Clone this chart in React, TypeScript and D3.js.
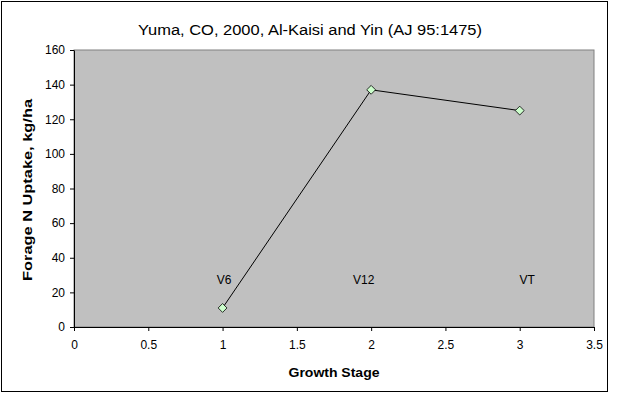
import * as d3 from 'd3';
import * as React from 'react';

const { useRef, useEffect } = React;

const width = 619;
const height = 397;
const margin = { top: 50, right: 25, bottom: 70, left: 74 };

const title = 'Yuma, CO, 2000, Al-Kaisi and Yin (AJ 95:1475)';
const stages = [1, 2, 3];
const uptake = [11, 137, 125];
const stageLabels = ['V6', 'V12', 'VT'];
const labelX = [1.01, 1.95, 3.05];
const labelY = [27, 27, 27];
const xTicks = [0, 0.5, 1, 1.5, 2, 2.5, 3, 3.5];
const yTicks = [0, 20, 40, 60, 80, 100, 120, 140, 160];

const font = '"Liberation Sans", Arial, sans-serif';

export default () => {
  const rootRef = useRef<SVGSVGElement>(null);

  useEffect(() => {
    const svgEl = rootRef.current;
    if (!svgEl) return;
    const svg = d3.select(svgEl);
    svg.selectAll('*').remove();

    const x = d3
      .scaleLinear()
      .domain([0, 3.5])
      .range([margin.left, width - margin.right]);
    const y = d3
      .scaleLinear()
      .domain([0, 160])
      .range([height - margin.bottom, margin.top]);

    // outer chart frame
    svg
      .append('rect')
      .attr('x', 1.5)
      .attr('y', 1.5)
      .attr('width', 606)
      .attr('height', 390)
      .attr('fill', '#fff')
      .attr('stroke', '#000')
      .attr('stroke-width', 1);

    // plot area
    svg
      .append('rect')
      .attr('x', x(0))
      .attr('y', y(160))
      .attr('width', x(3.5) - x(0))
      .attr('height', y(0) - y(160))
      .attr('fill', '#c0c0c0')
      .attr('stroke', '#808080')
      .attr('stroke-width', 1);

    svg
      .append('text')
      .attr('x', 310)
      .attr('y', 35)
      .attr('text-anchor', 'middle')
      .attr('textLength', 344)
      .attr('lengthAdjust', 'spacingAndGlyphs')
      .style('font', `14px ${font}`)
      .text(title);

    const xAxis = svg
      .append('g')
      .attr('transform', `translate(0,${y(0)})`)
      .call(
        d3
          .axisBottom(x)
          .tickValues(xTicks)
          .tickSize(4)
          .tickSizeOuter(0)
          .tickPadding(9)
          .tickFormat(d => String(d)),
      );
    xAxis.selectAll('text').style('font', `12px ${font}`).attr('fill', '#000');

    const yAxis = svg
      .append('g')
      .attr('transform', `translate(${x(0)},0)`)
      .call(
        d3
          .axisLeft(y)
          .tickValues(yTicks)
          .tickSize(4)
          .tickSizeOuter(0)
          .tickPadding(5),
      );
    yAxis.selectAll('text').style('font', `12px ${font}`).attr('fill', '#000');

    svg
      .append('text')
      .attr('x', 334)
      .attr('y', 377)
      .attr('text-anchor', 'middle')
      .attr('textLength', 91)
      .attr('lengthAdjust', 'spacingAndGlyphs')
      .style('font', `bold 13px ${font}`)
      .text('Growth Stage');

    svg
      .append('text')
      .attr('transform', `translate(32,190) rotate(-90)`)
      .attr('text-anchor', 'middle')
      .attr('textLength', 182)
      .attr('lengthAdjust', 'spacingAndGlyphs')
      .style('font', `bold 13px ${font}`)
      .text('Forage N Uptake, kg/ha');

    const pts = stages.map((s, i) => [s, uptake[i]] as [number, number]);

    const line = d3
      .line<[number, number]>()
      .x(d => x(d[0]))
      .y(d => y(d[1]));

    svg
      .append('path')
      .attr('d', line(pts))
      .attr('fill', 'none')
      .attr('stroke', '#000')
      .attr('stroke-width', 1);

    const sym = d3.symbol().type(d3.symbolDiamond2).size(50);
    svg
      .append('g')
      .selectAll('path')
      .data(pts)
      .join('path')
      .attr('transform', d => `translate(${x(d[0])},${y(d[1])})`)
      .attr('d', sym())
      .attr('fill', '#ccffcc')
      .attr('stroke', '#000')
      .attr('stroke-width', 0.8);

    svg
      .append('g')
      .selectAll('text')
      .data(stageLabels)
      .join('text')
      .attr('x', (d, i) => x(labelX[i]))
      .attr('y', (d, i) => y(labelY[i]) + 4)
      .attr('text-anchor', 'middle')
      .style('font', `12px ${font}`)
      .text(d => d);
  }, []);

  return (
    <svg
      ref={rootRef}
      width={width}
      height={height}
      style={{ position: 'absolute', left: 0, top: 0 }}
    />
  );
};
